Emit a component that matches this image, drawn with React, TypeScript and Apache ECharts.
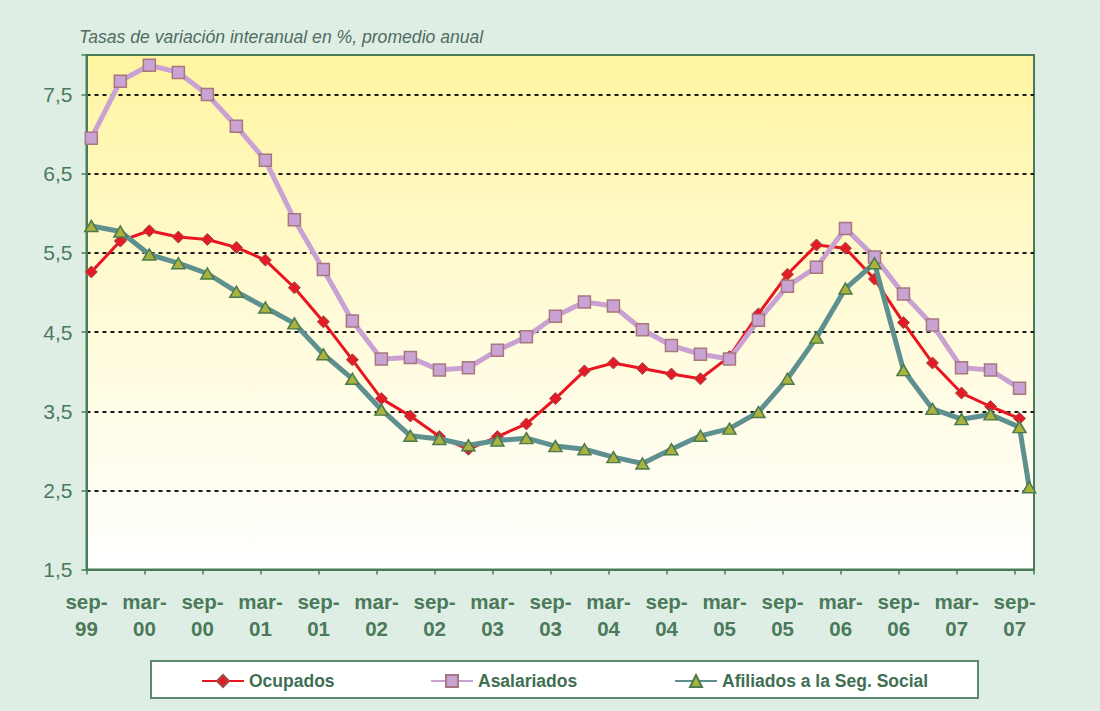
import React, { useEffect, useRef } from 'react';
import * as echarts from 'echarts';

const subtitle = 'Tasas de variación interanual en %, promedio anual';

const periods = [
  'sep-99', 'dic-99', 'mar-00', 'jun-00', 'sep-00', 'dic-00', 'mar-01', 'jun-01',
  'sep-01', 'dic-01', 'mar-02', 'jun-02', 'sep-02', 'dic-02', 'mar-03', 'jun-03',
  'sep-03', 'dic-03', 'mar-04', 'jun-04', 'sep-04', 'dic-04', 'mar-05', 'jun-05',
  'sep-05', 'dic-05', 'mar-06', 'jun-06', 'sep-06', 'dic-06', 'mar-07', 'jun-07',
  'sep-07',
];
const afiliadosPeriods = [...periods, 'oct-07'];

const tickLabels = [
  'sep-99', 'mar-00', 'sep-00', 'mar-01', 'sep-01', 'mar-02', 'sep-02', 'mar-03',
  'sep-03', 'mar-04', 'sep-04', 'mar-05', 'sep-05', 'mar-06', 'sep-06', 'mar-07', 'sep-07',
];
const yTicks = [1.5, 2.5, 3.5, 4.5, 5.5, 6.5, 7.5];

const ocupados = [
  5.26, 5.65, 5.78, 5.70, 5.67, 5.57, 5.41, 5.06, 4.63, 4.15, 3.66, 3.44, 3.18, 3.02,
  3.18, 3.34, 3.66, 4.01, 4.11, 4.04, 3.97, 3.91, 4.19, 4.73, 5.23, 5.60, 5.56, 5.17,
  4.62, 4.11, 3.73, 3.56, 3.41,
];
const asalariados = [
  6.95, 7.67, 7.87, 7.78, 7.50, 7.10, 6.67, 5.92, 5.29, 4.64, 4.16, 4.18, 4.02, 4.05,
  4.27, 4.44, 4.70, 4.88, 4.83, 4.53, 4.33, 4.22, 4.16, 4.65, 5.08, 5.32, 5.81, 5.45,
  4.98, 4.59, 4.05, 4.02, 3.79,
];
const afiliados = [
  5.84, 5.77, 5.48, 5.37, 5.24, 5.01, 4.81, 4.61, 4.22, 3.91, 3.52, 3.19, 3.15, 3.07,
  3.13, 3.16, 3.06, 3.02, 2.92, 2.84, 3.02, 3.19, 3.28, 3.49, 3.91, 4.43, 5.05, 5.37,
  4.02, 3.53, 3.40, 3.46, 3.30, 2.54,
];

const MONTHS = ['ene', 'feb', 'mar', 'abr', 'may', 'jun', 'jul', 'ago', 'sep', 'oct', 'nov', 'dic'];
// months elapsed since the start of sep-99, placed at mid-month
const monthPos = (label: string) => {
  const [m, y] = label.split('-');
  const year = 2000 + Number(y) - (Number(y) > 50 ? 100 : 0);
  return year * 12 + MONTHS.indexOf(m) - (1999 * 12 + 8) + 0.5;
};

const FONT = '"Liberation Sans", Arial, sans-serif';
const GREEN = '#4a7c5a';

export default function App() {
  const ref = useRef<HTMLDivElement>(null);
  useEffect(() => {
    if (!ref.current) return;
    const chart = echarts.init(ref.current, null, { renderer: 'svg' });
    const legendBase = {
      top: 672,
      padding: 0,
      itemWidth: 42,
      itemHeight: 15,
      itemGap: 0,
      selectedMode: false,
      textStyle: { fontFamily: FONT, fontSize: 17.5, fontWeight: 'bold', color: '#3f6f52', lineHeight: 15 },
    };
    chart.setOption({
      animation: false,
      backgroundColor: '#dfeee4',
      title: {
        text: subtitle,
        left: 79,
        top: 28,
        padding: 0,
        textStyle: { fontFamily: FONT, fontSize: 17.6, fontStyle: 'italic', fontWeight: 'normal', color: '#4f6c5f' },
      },
      graphic: [
        {
          type: 'rect',
          shape: { x: 151, y: 661, width: 827, height: 37 },
          style: { fill: '#ffffff', stroke: '#5d8a6a', lineWidth: 2 },
          z: 0,
        },
      ],
      legend: [
        { ...legendBase, left: 201, data: ['Ocupados'] },
        { ...legendBase, left: 430, data: ['Asalariados'] },
        { ...legendBase, left: 674, data: ['Afiliados a la Seg. Social'] },
      ],
      grid: {
        left: 86.5,
        right: 66,
        top: 55,
        bottom: 141.4,
        show: true,
        borderColor: GREEN,
        borderWidth: 2,
        backgroundColor: new echarts.graphic.LinearGradient(0, 0, 0, 1, [
          { offset: 0, color: '#fff4a0' },
          { offset: 0.5, color: '#fffbd8' },
          { offset: 1, color: '#ffffff' },
        ]),
      },
      xAxis: {
        type: 'value',
        min: 0,
        max: 98,
        interval: 6,
        axisLine: { show: true, lineStyle: { color: GREEN, width: 2 } },
        axisTick: { show: true, length: 5, lineStyle: { color: GREEN, width: 1.5 } },
        splitLine: { show: false },
        axisLabel: {
          margin: 18,
          fontFamily: FONT,
          fontSize: 20.5,
          fontWeight: 'bold',
          color: '#4a7a5a',
          lineHeight: 27,
          formatter: (v: number) => {
            const k = v / 6;
            if (Number.isInteger(k) && tickLabels[k]) return tickLabels[k].replace('-', '-\n');
            return '';
          },
        },
      },
      yAxis: {
        type: 'value',
        min: 1.5,
        max: 8.0,
        interval: 1,
        axisLine: { show: true, lineStyle: { color: GREEN, width: 2 } },
        axisTick: { show: true, length: 5, lineStyle: { color: GREEN, width: 1.5 } },
        axisLabel: {
          margin: 14,
          fontFamily: FONT,
          fontSize: 21,
          color: '#4a7a5e',
          formatter: (v: number) =>
            yTicks.some((t) => Math.abs(t - v) < 1e-6) ? v.toFixed(1).replace('.', ',') : '',
        },
        splitLine: {
          show: true,
          showMinLine: false,
          showMaxLine: false,
          lineStyle: { color: '#1a1a1a', width: 2, type: [4, 4] },
        },
      },
      series: [
        {
          name: 'Ocupados',
          type: 'line',
          data: periods.map((p, i) => [monthPos(p), ocupados[i]]),
          symbol: 'diamond',
          symbolSize: 12,
          showAllSymbol: true,
          lineStyle: { color: '#ea1520', width: 3 },
          itemStyle: { color: '#e41b25', borderColor: '#9a4d4d', borderWidth: 1 },
          emphasis: { disabled: true },
          z: 2,
        },
        {
          name: 'Asalariados',
          type: 'line',
          data: periods.map((p, i) => [monthPos(p), asalariados[i]]),
          symbol: 'rect',
          symbolSize: 12,
          showAllSymbol: true,
          lineStyle: { color: '#c9a2d3', width: 5 },
          itemStyle: { color: '#c9a3d3', borderColor: '#a8777e', borderWidth: 1.5 },
          emphasis: { disabled: true },
          z: 3,
        },
        {
          name: 'Afiliados a la Seg. Social',
          type: 'line',
          data: afiliadosPeriods.map((p, i) => [monthPos(p), afiliados[i]]),
          symbol: 'triangle',
          symbolSize: [13, 11],
          showAllSymbol: true,
          lineStyle: { color: '#5f9090', width: 5 },
          itemStyle: { color: '#a9b23e', borderColor: '#4b7a4e', borderWidth: 1.5 },
          emphasis: { disabled: true },
          z: 4,
        },
      ],
    });
    return () => chart.dispose();
  }, []);
  return <div ref={ref} style={{ position: 'absolute', left: 0, top: 0, width: 1100, height: 711 }} />;
}
